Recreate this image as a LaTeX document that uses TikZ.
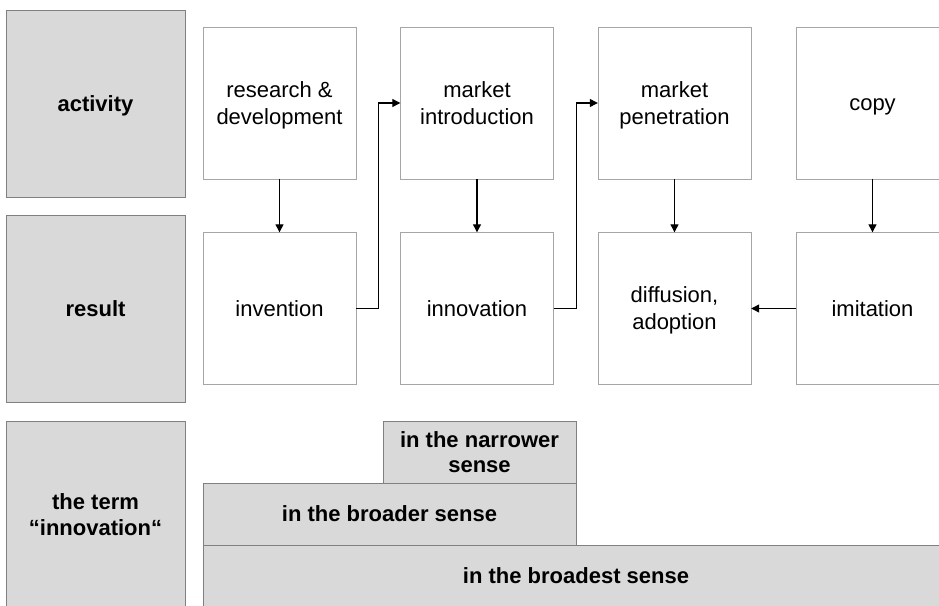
\documentclass[tikz,border=0pt]{standalone}
\usepackage{fontspec}
\setmainfont{Liberation Sans}
\usetikzlibrary{shapes,arrows.meta,positioning,calc}
\definecolor{labelgray}{HTML}{D9D9D9}
\definecolor{edgegray}{HTML}{808080}
\definecolor{stageedge}{HTML}{A6A6A6}
\newcommand{\figfont}{\fontsize{22}{27}\selectfont}
\newcommand{\linestrut}{\rule[-5pt]{0pt}{25pt}}

\tikzset{
  fulllines/.style={execute at begin node=\linestrut,execute at end node=\linestrut},
  rowlabel/.style={draw=edgegray,fill=labelgray,minimum width=179pt,minimum height=187pt,
    inner sep=2pt,align=center,font=\fontsize{22}{26}\selectfont\bfseries,fulllines},
  stagebox/.style={draw=stageedge,fill=white,minimum width=153pt,minimum height=152pt,
    inner sep=2pt,align=center,font=\figfont,fulllines},
  sensebar/.style={draw=edgegray,fill=labelgray,minimum height=62pt,inner sep=2pt,
    align=center,font=\fontsize{22}{25}\selectfont\bfseries,fulllines},
  flow/.style={line width=1.2pt,-{Triangle[length=8pt,width=8pt]}}
}

\begin{document}
\begin{tikzpicture}[x=1pt,y=-1pt]
  \useasboundingbox (0,0) rectangle (939,605);
  \clip (0,0) rectangle (939,605);

  % Row labels
  \node[rowlabel] (activity) at (95.5,103.5) {activity};
  \node[rowlabel] (result) at (95.5,308.5) {result};
  \node[rowlabel] (term) at (95.5,514.5) {\linestrut the term\\“innovation“};

  % Activities (top row)
  \node[stagebox] (rnd) at (279.5,103) {\linestrut research \&\\development};
  \node[stagebox] (intro) at (477,103) {\linestrut market\\introduction};
  \node[stagebox] (penetr) at (674.5,103) {\linestrut market\\penetration};
  \node[stagebox] (copy) at (872.5,103) {copy};

  % Results (bottom row)
  \node[stagebox] (invent) at (279.5,308.5) {invention};
  \node[stagebox] (innov) at (477,308.5) {innovation};
  \node[stagebox] (diffus) at (674.5,308.5) {\linestrut diffusion,\\adoption};
  \node[stagebox] (imit) at (872.5,308.5) {imitation};

  % Connectors
  \draw[flow] (rnd) -- (invent);
  \draw[flow] (intro) -- (innov);
  \draw[flow] (penetr) -- (diffus);
  \draw[flow] (copy) -- (imit);
  \draw[flow] (invent.east) -- ++(22,0) |- (intro.west);
  \draw[flow] (innov.east) -- ++(22.5,0) |- (penetr.west);
  \draw[flow] (imit) -- (diffus);

  % Senses of the term
  \node[sensebar,minimum width=193pt] (narrow) at (479.5,452) {\linestrut in the narrower\\sense};
  \node[sensebar,minimum width=373pt] (broad) at (389.5,514) {in the broader sense};
  \node[sensebar,minimum width=746pt] (broadest) at (576,576) {in the broadest sense};
\end{tikzpicture}
\end{document}
